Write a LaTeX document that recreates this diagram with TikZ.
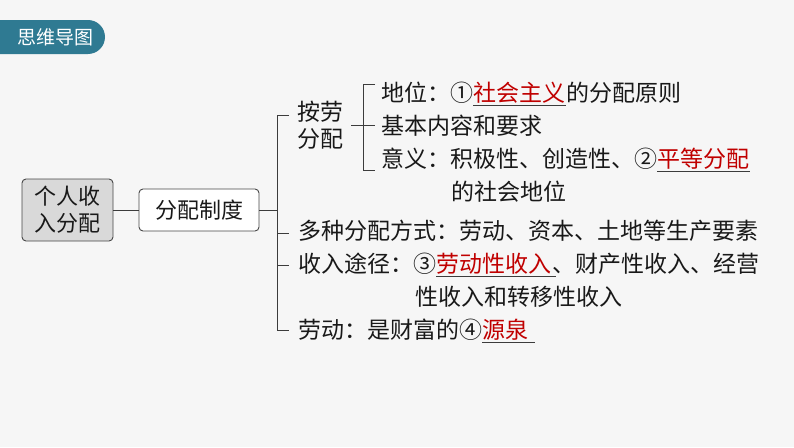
\documentclass[tikz,border=0pt]{standalone}
\usepackage{fontspec}
\newfontfamily\cjk{Noto Sans CJK SC}
\usetikzlibrary{calc}
\definecolor{tabteal}{RGB}{47,122,146}
\definecolor{keyred}{RGB}{192,0,0}
\definecolor{boxgray}{RGB}{217,217,217}
\definecolor{paper}{RGB}{246,246,246}
\definecolor{ink}{RGB}{25,25,25}

\begin{document}
\begin{tikzpicture}[x=1pt,y=-1pt,
    txt/.style={font=\cjk\fontsize{23}{23}\selectfont, text=ink, inner sep=0pt, anchor=base west},
    key/.style={txt, text=keyred},
    box/.style={draw=ink!80, line width=0.9pt, rounded corners=4pt, font=\cjk\fontsize{22}{27}\selectfont, text=ink, align=center, inner sep=0pt},
    ln/.style={draw=ink!85, line width=0.9pt},
    uline/.style={draw=ink!85, line width=0.8pt}]
    % Draw the background
    \fill[paper] (0,0) rectangle (794,447);
    \useasboundingbox (0,0) rectangle (794,447);
    \begin{scope}
        \clip (0,0) rectangle (794,447);
        \fill[tabteal, rounded corners=17pt] (-30,20) rectangle (105,54);
    \end{scope}
    \node[font=\cjk\fontsize{19}{19}\selectfont, text=white] (title) at (55,37) {思维导图};

    % Draw the root and the system box
    \node[box, fill=boxgray, minimum width=91pt, minimum height=62pt] (root) at (67.5,210) {个人收\\入分配};
    \node[box, fill=white, minimum width=120pt, minimum height=42pt] (sys) at (199,210) {分配制度};
    \draw[ln] (root.east) -- (sys.west);

    % Draw the outer bracket
    \coordinate (ob) at (277,210);
    \draw[ln] (sys.east) -- (ob);
    \draw[ln] (289,115) -- (277,115) -- (277,330) -- (289,330);
    \draw[ln] (277,233) -- (289,233);
    \draw[ln] (277,265) -- (289,265);

    % Draw the first branch
    \node[txt, anchor=center, align=left, inner xsep=8pt, font=\cjk\fontsize{23}{27}\selectfont] (al) at (320,125) {按劳\\分配};
    \coordinate (ib) at (375,125);
    \draw[ln] (al.east) -- (ib);
    \draw[ln] (375,84) -- (363,84) -- (363,170) -- (375,170);

    \node[txt] (dw) at (381,101.7) {地位：①};
    \node[key] (shzy) at (dw.base east) {社会主义};
    \node[txt] (yz) at (shzy.base east) {的分配原则};
    \draw[uline] ([yshift=-3.5pt]shzy.base west) -- ([yshift=-3.5pt]shzy.base east);

    \node[txt] (nr) at (381,134.7) {基本内容和要求};

    \node[txt] (yy) at (381,167.7) {意义：积极性、创造性、②};
    \node[key] (pdfp) at (yy.base east) {平等分配};
    \draw[uline] ([yshift=-3.5pt]pdfp.base west) -- ([yshift=-3.5pt]pdfp.base east);
    \node[txt] (dw2) at (451,200.7) {的社会地位};

    % Draw the other branches
    \node[txt] (dz) at (298,239.7) {多种分配方式：劳动、资本、土地等生产要素};

    \node[txt] (tj) at (298,272.7) {收入途径：③};
    \node[key] (ldx) at (tj.base east) {劳动性收入};
    \node[txt] (cc) at (ldx.base east) {、财产性收入、经营};
    \draw[uline] ([yshift=-3.5pt]ldx.base west) -- ([yshift=-3.5pt,xshift=4pt]ldx.base east);
    \node[txt] (zy) at (415,305.7) {性收入和转移性收入};

    \node[txt] (ld) at (298,338.7) {劳动：是财富的④};
    \node[key] (yq) at (ld.base east) {源泉};
    \draw[uline] ([yshift=-3.5pt]yq.base west) -- ([yshift=-3.5pt,xshift=6pt]yq.base east);
\end{tikzpicture}
\end{document}
